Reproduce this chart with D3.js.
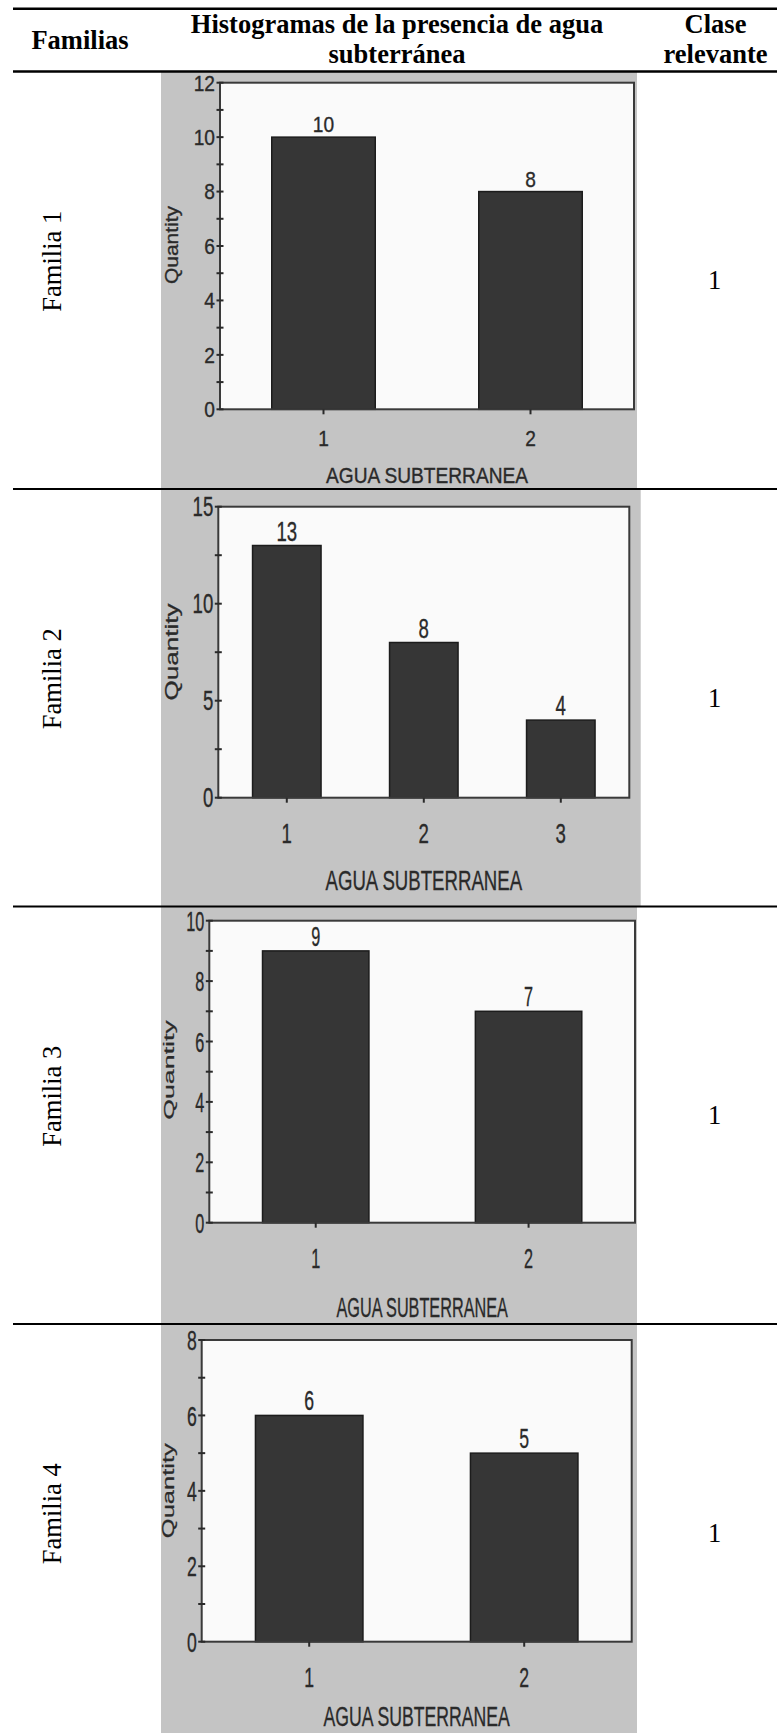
<!DOCTYPE html>
<html>
<head>
<meta charset="utf-8">
<script src="https://cdn.jsdelivr.net/npm/d3@7"></script>
<style>
  html, body { margin: 0; padding: 0; background: #fff; }
  svg { display: block; }
</style>
</head>
<body>
<svg id="chart"></svg>
<script>
// table texts
const headFamilias = "Familias"
const headHist = ["Histogramas de la presencia de agua", "subterránea"]
const headClase = ["Clase", "relevante"]
const families = ["Familia 1", "Familia 2", "Familia 3", "Familia 4"]
const relevantClass = ["1", "1", "1", "1"]

// one histogram per familia
const categories1 = ["1", "2"]
const quantity1 = [10, 8]
const categories2 = ["1", "2", "3"]
const quantity2 = [13, 8, 4]
const categories3 = ["1", "2"]
const quantity3 = [9, 7]
const categories4 = ["1", "2"]
const quantity4 = [6, 5]

// y axis extent and labelled tick step of each histogram
const yMax = [12, 15, 10, 8]
const yStep = [2, 5, 2, 2]
const xTitle = "AGUA SUBTERRANEA"
const yTitle = "Quantity"

const W = 777, H = 1733
const headTop = 8.7, headBottom = 71.5, rowH = 417.5

// the pasted screenshots are squeezed sideways by a different amount each (k)
const panels = [
    {cats: categories1, vals: quantity1, bgR: 637, l: 220, r: 634, t: 82.7, b: 409.3,
     k: 0.87, fs: 22, qfs: 21, qx: 178, qy: 245, tickY: 446, titleY: 483.3},
    {cats: categories2, vals: quantity2, bgR: 640.7, l: 218.3, r: 629.3, t: 506.7, b: 797.7,
     k: 0.69, fs: 27, qfs: 26, qx: 178, qy: 652, tickY: 843, titleY: 890},
    {cats: categories3, vals: quantity3, bgR: 637, l: 209.3, r: 635, t: 920.7, b: 1222.7,
     k: 0.58, fs: 28, qfs: 26.8, qx: 174, qy: 1070, tickY: 1268, titleY: 1316.7},
    {cats: categories4, vals: quantity4, bgR: 637, l: 201.7, r: 631.7, t: 1340, b: 1641.7,
     k: 0.63, fs: 28, qfs: 25.5, qx: 174, qy: 1490.7, tickY: 1686.5, titleY: 1726}
]

const svg = d3.select("#chart").attr("width", W).attr("height", H)

// text squeezed horizontally around its anchor point
function squeezed(g, x, y, str, fs, k, anchor){
    return g.append("text")
        .attr("transform", `translate(${x},${y}) scale(${k},1)`)
        .attr("text-anchor", anchor || "middle")
        .attr("font-size", fs)
        .text(str)
}

panels.forEach((p, i) => {
    let top = headBottom + i * rowH
    let bottom = Math.min(top + rowH, H)
    let g = svg.append("g")
        .attr("font-family", "'Liberation Sans', Arial, sans-serif")
        .attr("fill", "#2a2a2a")
        .attr("stroke", "#2a2a2a")
        .attr("stroke-width", 0.35)

    g.append("rect")
        .attr("x", 161).attr("y", top)
        .attr("width", p.bgR - 161).attr("height", bottom - top)
        .attr("fill", "#c4c4c4")
        .attr("stroke", "none")

    let x = d3.scaleBand()
        .domain(p.cats)
        .range([p.l, p.r])
        .paddingInner(0.5)
        .paddingOuter(0.25)
    let y = d3.scaleLinear()
        .domain([0, yMax[i]])
        .range([p.b, p.t])

    g.append("rect")
        .attr("x", p.l).attr("y", p.t)
        .attr("width", p.r - p.l).attr("height", p.b - p.t)
        .attr("fill", "#fafafa")
        .attr("stroke", "none")

    let data = p.cats.map((c, j) => ({cat: c, val: p.vals[j]}))

    g.selectAll("rect.bar")
        .data(data)
        .enter().append("rect")
            .attr("class", "bar")
            .attr("x", d => x(d.cat))
            .attr("y", d => y(d.val))
            .attr("width", x.bandwidth())
            .attr("height", d => p.b - y(d.val))
            .attr("fill", "#363636")
            .attr("stroke", "#1c1c1c")
            .attr("stroke-width", 1.5)

    // frame round the plot
    g.append("rect")
        .attr("x", p.l).attr("y", p.t)
        .attr("width", p.r - p.l).attr("height", p.b - p.t)
        .attr("fill", "none")
        .attr("stroke", "#3a3a3a")
        .attr("stroke-width", 2)

    // y ticks: labelled every step, small ones half way between
    let step = yStep[i]
    let minor = d3.range(0, yMax[i] + 1e-9, step / 2)
    g.selectAll("line.ytick")
        .data(minor)
        .enter().append("line")
            .attr("class", "ytick")
            .attr("x1", p.l - 3.5).attr("x2", p.l + 3.5)
            .attr("y1", d => y(d)).attr("y2", d => y(d))
            .attr("stroke", "#2a2a2a")
            .attr("stroke-width", 2)

    d3.range(0, yMax[i] + 1e-9, step).forEach(v => {
        squeezed(g, p.l - 5, y(v) + 0.36 * p.fs, v, p.fs, p.k, "end")
    })

    // x ticks and labels
    p.cats.forEach(c => {
        let cx = x(c) + x.bandwidth() / 2
        g.append("line")
            .attr("x1", cx).attr("x2", cx)
            .attr("y1", p.b).attr("y2", p.b + 5)
            .attr("stroke", "#2a2a2a")
            .attr("stroke-width", 2)
        squeezed(g, cx, p.tickY, c, p.fs, p.k)
    })

    // value above each bar
    data.forEach(d => {
        squeezed(g, x(d.cat) + x.bandwidth() / 2, y(d.val) - 5, d.val, p.fs, p.k)
    })

    squeezed(g, (p.l + p.r) / 2, p.titleY, xTitle, p.fs, p.k)

    g.append("text")
        .attr("transform", `translate(${p.qx},${p.qy}) rotate(-90) scale(1,${p.k})`)
        .attr("text-anchor", "middle")
        .attr("font-size", p.qfs)
        .text(yTitle)

    // table cells beside the chart
    let mid = top + rowH / 2
    svg.append("text")
        .attr("transform", `translate(61,${mid - 19}) rotate(-90)`)
        .attr("text-anchor", "middle")
        .attr("font-family", "'Liberation Serif', 'Times New Roman', serif")
        .attr("font-size", 26.5)
        .text(families[i])
    svg.append("text")
        .attr("x", 714.5).attr("y", mid + 9)
        .attr("text-anchor", "middle")
        .attr("font-family", "'Liberation Serif', 'Times New Roman', serif")
        .attr("font-size", 26.5)
        .text(relevantClass[i])
})

// header row
let head = svg.append("g")
    .attr("font-family", "'Liberation Serif', 'Times New Roman', serif")
    .attr("font-weight", "bold")
    .attr("font-size", 26.5)
    .attr("text-anchor", "middle")
head.append("text").attr("x", 80).attr("y", 49.3).text(headFamilias)
headHist.forEach((s, j) => head.append("text").attr("x", 397).attr("y", 33.3 + j * 30).text(s))
headClase.forEach((s, j) => head.append("text").attr("x", 715.5).attr("y", 33.3 + j * 30).text(s))

// table rules
let rules = [headTop, headBottom].map(v => ({y: v, w: 2.6}))
    .concat(d3.range(1, 4).map(j => ({y: headBottom + j * rowH, w: 2})))
svg.selectAll("line.rule")
    .data(rules)
    .enter().append("line")
        .attr("class", "rule")
        .attr("x1", 13).attr("x2", W)
        .attr("y1", d => d.y).attr("y2", d => d.y)
        .attr("stroke", "#000")
        .attr("stroke-width", d => d.w)
</script>
</body>
</html>
